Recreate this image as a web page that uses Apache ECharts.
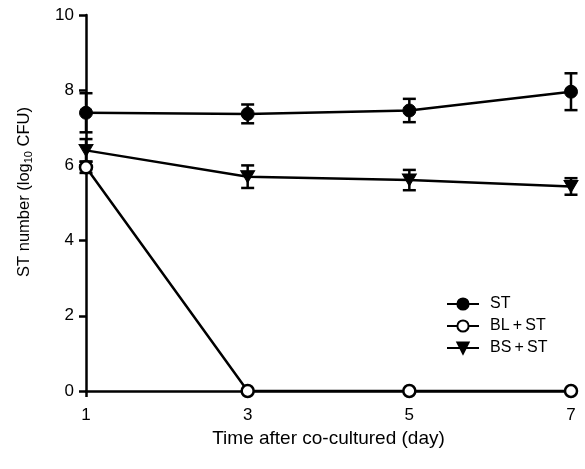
<!DOCTYPE html>
<html>
<head>
<meta charset="utf-8">
<script src="https://cdn.jsdelivr.net/npm/echarts@6/dist/echarts.min.js"></script>
<style>html,body{margin:0;padding:0;background:#fff;}#c{width:585px;height:469px;}</style>
</head>
<body>
<div id="c"></div>
<script>
var days = [1, 3, 5, 7];
var xTicks = [1, 3, 5, 7];
var yTicks = [0, 2, 4, 6, 8, 10];
var seriesNames = ['ST', 'BL\u2009+\u2009ST', 'BS\u2009+\u2009ST'];
var stMean = [7.40, 7.37, 7.46, 7.96];
var stErr = [0.52, 0.25, 0.31, 0.49];
var blMean = [5.95, 0, 0, 0];
var blErr = [0.15, 0, 0, 0];
var bsMean = [6.40, 5.70, 5.61, 5.44];
var bsErr = [0.30, 0.30, 0.27, 0.22];

var FONT = 'Liberation Sans, Arial, sans-serif';

function pts(mean) { return days.map(function (d, i) { return [d, mean[i]]; }); }
function errPts(mean, err) { return days.map(function (d, i) { return [d, mean[i], err[i]]; }); }

function errRender(params, api) {
  var x = api.value(0), y = api.value(1), e = api.value(2);
  if (!e) return null;
  var hi = api.coord([x, y + e]);
  var lo = api.coord([x, y - e]);
  var w = 6.5;
  var st = { stroke: '#000', lineWidth: 2.5 };
  return {
    type: 'group',
    children: [
      { type: 'line', shape: { x1: hi[0], y1: hi[1], x2: lo[0], y2: lo[1] }, style: st },
      { type: 'line', shape: { x1: hi[0] - w, y1: hi[1], x2: hi[0] + w, y2: hi[1] }, style: st },
      { type: 'line', shape: { x1: lo[0] - w, y1: lo[1], x2: lo[0] + w, y2: lo[1] }, style: st }
    ]
  };
}

function errSeries(mean, err) {
  return {
    type: 'custom', renderItem: errRender, data: errPts(mean, err),
    encode: { x: 0, y: 1 }, z: 3, silent: true
  };
}

var chart = echarts.init(document.getElementById('c'), null, { renderer: 'canvas' });
chart.setOption({
  animation: false,
  backgroundColor: '#fff',
  grid: { left: 86, right: 14, top: 15, bottom: 78, containLabel: false },
  legend: {
    left: 441, top: 291, orient: 'vertical', itemWidth: 32, itemHeight: 14, itemGap: 6,
    data: seriesNames,
    textStyle: { color: '#000', fontFamily: FONT, fontSize: 16, padding: [0, 0, 0, 6] }
  },
  xAxis: {
    type: 'value', min: 1, max: 7, interval: 2,
    name: 'Time after co-cultured (day)', nameLocation: 'middle', nameGap: 33,
    nameTextStyle: { color: '#000', fontFamily: FONT, fontSize: 19 },
    axisLine: { onZero: false, lineStyle: { color: '#000', width: 2.5 } },
    axisTick: { show: true, length: 6, lineStyle: { color: '#000', width: 2.5 } },
    axisLabel: { color: '#000', fontFamily: FONT, fontSize: 17, margin: 16 },
    splitLine: { show: false }
  },
  yAxis: {
    type: 'value', min: 0, max: 10, interval: 2,
    name: '{a|ST number (log}{s|10}{a| CFU)}', nameLocation: 'middle', nameGap: 52, nameRotate: 90,
    nameTextStyle: {
      color: '#000', fontFamily: FONT, fontSize: 16, padding: [0, 0, 0, 22],
      rich: {
        a: { fontFamily: FONT, fontSize: 16.5, color: '#000', lineHeight: 20 },
        s: { fontFamily: FONT, fontSize: 11, color: '#000', lineHeight: 20, padding: [9, 0, 0, 0] }
      }
    },
    axisLine: { show: true, lineStyle: { color: '#000', width: 2.5 } },
    axisTick: { show: true, length: 7, lineStyle: { color: '#000', width: 2.5 } },
    axisLabel: { color: '#000', fontFamily: FONT, fontSize: 17, margin: 12 },
    splitLine: { show: false }
  },
  series: [
    errSeries(stMean, stErr),
    errSeries(blMean, blErr),
    errSeries(bsMean, bsErr),
    {
      name: seriesNames[0], type: 'line', data: pts(stMean), z: 4,
      symbol: 'circle', symbolSize: 13,
      lineStyle: { color: '#000', width: 2.5 },
      itemStyle: { color: '#000', borderColor: '#000', borderWidth: 1 }
    },
    {
      name: seriesNames[2], type: 'line', data: pts(bsMean), z: 4,
      symbol: 'triangle', symbolRotate: 180, symbolSize: [14, 12],
      lineStyle: { color: '#000', width: 2.5 },
      itemStyle: { color: '#000', borderColor: '#000', borderWidth: 1 }
    },
    {
      name: seriesNames[1], type: 'line', data: pts(blMean), z: 5,
      symbol: 'circle', symbolSize: 12,
      lineStyle: { color: '#000', width: 2.5 },
      itemStyle: { color: '#fff', borderColor: '#000', borderWidth: 2.5 }
    }
  ]
});
</script>
</body>
</html>
